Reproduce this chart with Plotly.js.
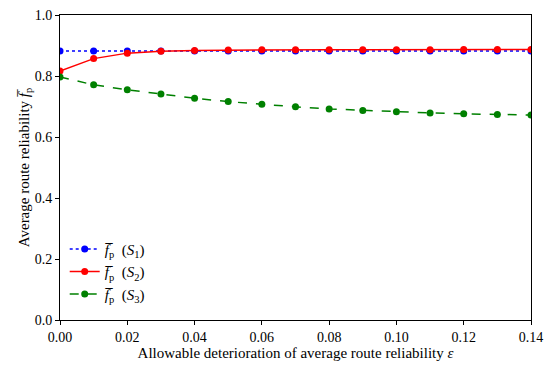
<!DOCTYPE html>
<html>
<head>
<meta charset="utf-8">
<script src="https://cdn.plot.ly/plotly-3.0.1.min.js"></script>
<style>html,body{margin:0;padding:0;background:#fff;}#chart{width:550px;height:367px;}</style>
</head>
<body>
<div id="chart"></div>
<script>
const epsilon = [0.00,0.01,0.02,0.03,0.04,0.05,0.06,0.07,0.08,0.09,0.10,0.11,0.12,0.13,0.14];
const s1 = [0.882,0.882,0.882,0.882,0.882,0.882,0.882,0.882,0.882,0.882,0.882,0.882,0.882,0.882,0.882];
const s2 = [0.816,0.857,0.875,0.881,0.884,0.885,0.886,0.886,0.886,0.886,0.886,0.886,0.887,0.887,0.887];
const s3 = [0.797,0.771,0.755,0.741,0.727,0.716,0.707,0.699,0.692,0.687,0.683,0.679,0.676,0.674,0.672];
const names = ['<i>f\u0305</i><sub>p</sub>  (<i>S</i><sub>1</sub>)','<i>f\u0305</i><sub>p</sub>  (<i>S</i><sub>2</sub>)','<i>f\u0305</i><sub>p</sub>  (<i>S</i><sub>3</sub>)'];
const xTitle = 'Allowable deterioration of average route reliability <i>\u03b5</i>';
const yTitle = 'Average route reliability <i>f\u0305</i><sub>p</sub>';

const fam = '"Liberation Serif", "DejaVu Serif", serif';
const font = {family:fam, size:14, color:'#000'};
const titleFont = {family:fam, size:15, color:'#000'};
const legendFont = {family:fam, size:15, color:'#000'};
const traces = [
  {x:epsilon, y:s1, name:names[0], mode:'lines+markers', line:{color:'#0000ff', width:1.5, dash:'dot'}, marker:{color:'#0000ff', size:7}},
  {x:epsilon, y:s2, name:names[1], mode:'lines+markers', line:{color:'#ff0000', width:1.5}, marker:{color:'#ff0000', size:7}},
  {x:epsilon, y:s3, name:names[2], mode:'lines+markers', line:{color:'#008000', width:1.5, dash:'dash'}, marker:{color:'#008000', size:7}}
];
const axisCommon = {showline:true, mirror:true, linecolor:'#000', linewidth:1, ticks:'outside', ticklen:4, tickcolor:'#000', showgrid:false, zeroline:false, tickfont:font};
const layout = {
  width:550, height:367,
  margin:{l:60, r:19, t:15, b:47},
  paper_bgcolor:'#fff', plot_bgcolor:'#fff',
  font:font,
  showlegend:true,
  legend:{x:0.01, y:0.03, xanchor:'left', yanchor:'bottom', bgcolor:'rgba(255,255,255,0)', borderwidth:0, font:legendFont, tracegroupgap:0},
  xaxis:Object.assign({}, axisCommon, {range:[0,0.14], dtick:0.02, tick0:0, tickformat:'.2f', title:{text:xTitle, font:titleFont, standoff:3}}),
  yaxis:Object.assign({}, axisCommon, {range:[0,1], dtick:0.2, tick0:0, tickformat:'.1f', title:{text:yTitle, font:titleFont, standoff:1}})
};
Plotly.newPlot('chart', traces, layout, {displayModeBar:false, staticPlot:true});
</script>
</body>
</html>
